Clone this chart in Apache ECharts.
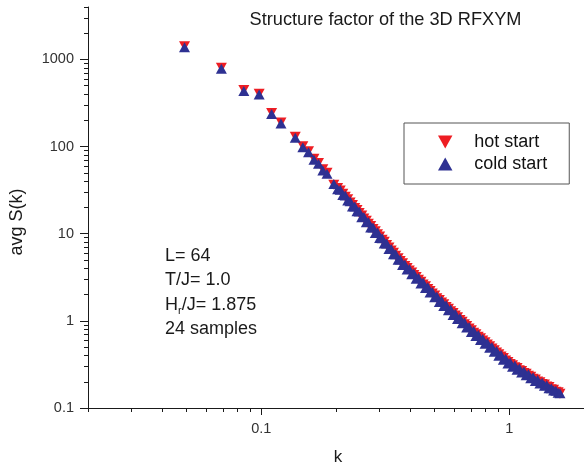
<!DOCTYPE html>
<html>
<head>
<meta charset="utf-8">
<script src="https://cdn.jsdelivr.net/npm/echarts@6/dist/echarts.min.js"></script>
<style>html,body{margin:0;padding:0;background:#fff}#c{width:584px;height:464px}</style>
</head>
<body>
<div id="c"></div>
<script>
// wave vector magnitudes k
const kValues = [
  0.049, 0.069, 0.085, 0.098, 0.110, 0.120, 0.137, 0.147, 0.155, 0.163, 0.170, 0.177, 0.184,
  0.196, 0.203, 0.208, 0.213, 0.218, 0.223, 0.228, 0.233, 0.238, 0.243, 0.248, 0.254, 0.259, 0.265,
  0.270, 0.276, 0.282, 0.288, 0.294, 0.300, 0.307, 0.313, 0.320, 0.327, 0.334, 0.341, 0.348, 0.356,
  0.363, 0.371, 0.379, 0.387, 0.395, 0.404, 0.412, 0.421, 0.430, 0.440, 0.449, 0.459, 0.469, 0.479,
  0.489, 0.500, 0.510, 0.522, 0.533, 0.544, 0.556, 0.568, 0.580, 0.593, 0.605, 0.618, 0.632, 0.645,
  0.659, 0.673, 0.688, 0.703, 0.718, 0.733, 0.749, 0.765, 0.781, 0.798, 0.815, 0.833, 0.851, 0.869,
  0.888, 0.907, 0.926, 0.946, 0.966, 0.987, 1.008, 1.030, 1.052, 1.074, 1.097, 1.121, 1.145, 1.169,
  1.194, 1.220, 1.246, 1.273, 1.300, 1.328, 1.356, 1.385, 1.415, 1.445, 1.476, 1.508, 1.540, 1.573, 1.600
];
// avg S(k), hot start
const hotStart = [
  1420, 805, 445, 405, 243, 189, 130, 101, 88.5, 72.5, 65.0, 54.8, 50.0,
  36.6, 33.5, 31.3, 28.8, 26.5, 24.8, 22.8, 21.4, 19.8, 18.7, 17.3, 16.2, 15.0, 14.1,
  13.0, 12.3, 11.3, 10.7, 9.85, 9.30, 8.52, 8.07, 7.41, 6.97, 6.42, 6.05, 5.59, 5.24,
  4.85, 4.57, 4.25, 4.05, 3.78, 3.58, 3.35, 3.18, 2.96, 2.81, 2.62, 2.50, 2.32, 2.20,
  2.06, 1.95, 1.82, 1.73, 1.62, 1.55, 1.44, 1.38, 1.29, 1.23, 1.15, 1.10, 1.02, 0.980,
  0.915, 0.875, 0.816, 0.778, 0.731, 0.702, 0.659, 0.631, 0.594, 0.569, 0.534, 0.512, 0.481, 0.460,
  0.433, 0.414, 0.390, 0.374, 0.352, 0.338, 0.319, 0.310, 0.294, 0.287, 0.272, 0.266, 0.252, 0.247,
  0.234, 0.229, 0.216, 0.212, 0.201, 0.198, 0.188, 0.186, 0.176, 0.174, 0.164, 0.162, 0.154, 0.152, 0.146
];
// avg S(k), cold start
const coldStart = [
  1384, 780, 435, 397, 237, 184, 126, 98.5, 86.3, 70.5, 63.5, 53.2, 48.7,
  37.2, 32.4, 31.9, 27.8, 27.5, 24.0, 23.6, 20.5, 20.5, 18.1, 18.0, 15.5, 15.6, 13.5,
  13.6, 11.8, 11.8, 10.2, 10.3, 8.95, 8.85, 7.72, 7.73, 6.70, 6.70, 5.80, 5.82, 5.02,
  5.06, 4.38, 4.44, 3.88, 3.95, 3.43, 3.50, 3.04, 3.10, 2.69, 2.75, 2.38, 2.43, 2.11,
  2.15, 1.87, 1.90, 1.65, 1.70, 1.48, 1.51, 1.32, 1.35, 1.17, 1.21, 1.05, 1.07, 0.938,
  0.957, 0.837, 0.853, 0.745, 0.764, 0.672, 0.688, 0.605, 0.620, 0.545, 0.558, 0.490, 0.502, 0.441,
  0.452, 0.397, 0.407, 0.358, 0.368, 0.324, 0.333, 0.297, 0.307, 0.275, 0.284, 0.255, 0.263, 0.237,
  0.244, 0.220, 0.225, 0.204, 0.209, 0.191, 0.195, 0.180, 0.182, 0.169, 0.169, 0.159, 0.158, 0.150, 0.148
];
const xMajorTicks = [0.1, 1];
const xMinorTicks = [0.02, 0.03, 0.04, 0.05, 0.06, 0.07, 0.08, 0.09, 0.2, 0.3, 0.4, 0.5, 0.6, 0.7, 0.8, 0.9];
const yMajorTicks = [0.1, 1, 10, 100, 1000];
const yMinorTicks = [0.2,0.3,0.4,0.5,0.6,0.7,0.8,0.9, 2,3,4,5,6,7,8,9, 20,30,40,50,60,70,80,90,
  200,300,400,500,600,700,800,900, 2000,3000,4000];
const annotationLines = ['L= 64', 'T/J= 1.0', 'H{sub|r}/J= 1.875', '24 samples'];

const FONT = 'Liberation Sans, Arial, Helvetica, sans-serif';
const AXC = '#1a1a1a';
const fmt = v => v >= 1 ? String(Math.round(v)) : String(+Number(v).toPrecision(1));

const hotData = kValues.map((k, i) => [k, hotStart[i]]);
const coldData = kValues.map((k, i) => [k, coldStart[i]]);

const chart = echarts.init(document.getElementById('c'), null, {renderer: 'canvas'});
const baseX = {type: 'log', logBase: 10, min: 0.02, max: 2, gridIndex: 0, splitLine: {show: false}};
const baseY = {type: 'log', logBase: 10, min: 0.1, max: 4000, gridIndex: 0, splitLine: {show: false}};
chart.setOption({
  animation: false,
  grid: {left: 88, right: 0, top: 7, bottom: 56, outerBoundsMode: 'none'},
  xAxis: [
    Object.assign({}, baseX, {
      position: 'bottom',
      axisLine: {show: true, lineStyle: {color: AXC, width: 1}},
      axisTick: {show: true, length: 7, inside: false, customValues: xMajorTicks, lineStyle: {color: AXC}},
      axisLabel: {show: true, customValues: xMajorTicks, formatter: fmt, margin: 13,
        fontSize: 14.5, color: '#333', fontFamily: FONT}
    }),
    Object.assign({}, baseX, {
      position: 'bottom',
      axisLine: {show: false},
      axisTick: {show: true, length: 4, inside: false, customValues: xMinorTicks, lineStyle: {color: AXC}},
      axisLabel: {show: false}
    })
  ],
  yAxis: [
    Object.assign({}, baseY, {
      position: 'left',
      axisLine: {show: true, lineStyle: {color: AXC, width: 1}},
      axisTick: {show: true, length: 8, inside: false, customValues: yMajorTicks, lineStyle: {color: AXC}},
      axisLabel: {show: true, customValues: yMajorTicks, formatter: fmt, margin: 14,
        fontSize: 14.5, color: '#333', fontFamily: FONT}
    }),
    Object.assign({}, baseY, {
      position: 'left',
      axisLine: {show: false},
      axisTick: {show: true, length: 4, inside: false, customValues: yMinorTicks, lineStyle: {color: AXC}},
      axisLabel: {show: false}
    })
  ],
  legend: {
    data: ['hot start', 'cold start'],
    orient: 'vertical', left: 404, top: 123,
    itemWidth: 48, itemHeight: 13, itemGap: 4,
    padding: [10, 22, 11, 34],
    borderColor: '#555', borderWidth: 1,
    textStyle: {fontSize: 18, color: '#111', fontFamily: FONT}
  },
  series: [
    {
      name: 'hot start', type: 'scatter', xAxisIndex: 0, yAxisIndex: 0,
      symbol: 'path://M0,0L10,0L5,9Z', symbolSize: [11, 10],
      itemStyle: {color: '#ee1d23', opacity: 1},
      data: hotData
    },
    {
      name: 'cold start', type: 'scatter', xAxisIndex: 0, yAxisIndex: 0,
      symbol: 'path://M5,0L10,9L0,9Z', symbolSize: [11, 10],
      itemStyle: {color: '#2e3192', opacity: 1},
      data: coldData
    }
  ],
  graphic: [
    {type: 'text', x: 385.5, y: 20, style: {text: 'Structure factor of the 3D RFXYM', font: '18.2px ' + FONT,
      fill: '#1a1a1a', align: 'center', verticalAlign: 'middle'}},
    {type: 'text', x: 17, y: 222, rotation: Math.PI / 2, style: {text: 'avg S(k)', font: '18px ' + FONT,
      fill: '#1a1a1a', align: 'center', verticalAlign: 'middle'}},
    {type: 'text', x: 338, y: 457, style: {text: 'k', font: '17px ' + FONT,
      fill: '#1a1a1a', align: 'center', verticalAlign: 'middle'}}
  ].concat(annotationLines.map((t, i) => ({
    type: 'text', x: 165, y: 256 + i * 24.3,
    style: {text: t, fontSize: 18, fontFamily: FONT, fill: '#1a1a1a', align: 'left', verticalAlign: 'middle',
      rich: {sub: {fontSize: 11, fontFamily: FONT, fill: '#1a1a1a', padding: [12, 0, 0, 0]}}}
  })))
});
</script>
</body>
</html>
